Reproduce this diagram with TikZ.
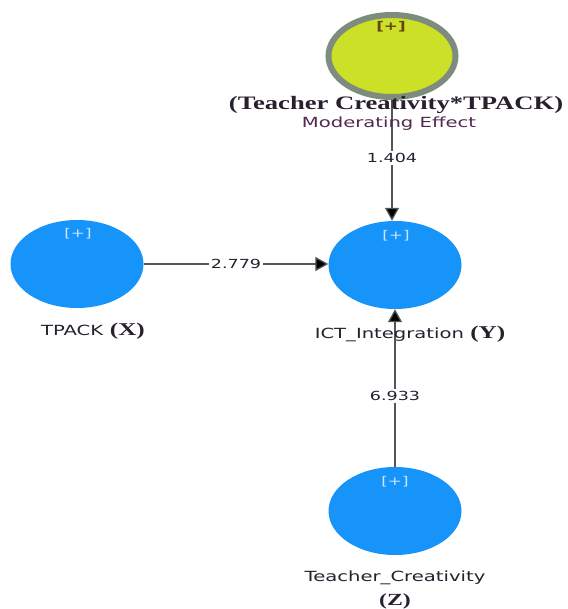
\documentclass[tikz,border=0pt]{standalone}
\usepackage{fontspec}
\setmainfont{Liberation Serif}
\setsansfont{DejaVu Sans}
\usetikzlibrary{shapes.geometric,arrows.meta}
\definecolor{lvblue}{RGB}{22,148,250}
\definecolor{lvyellow}{RGB}{204,224,40}
\definecolor{lvgray}{RGB}{125,140,125}
\definecolor{txtdark}{RGB}{40,32,46}
\definecolor{txtpurple}{RGB}{84,40,80}
\definecolor{plusblue}{RGB}{205,228,252}
\definecolor{plusbrown}{RGB}{100,70,20}
\definecolor{linegray}{RGB}{85,85,85}
\newcommand{\sx}[1]{\scalebox{1.4}[1]{#1}}
\tikzset{
  latent/.style={ellipse, fill=lvblue, draw=none, minimum width=133pt, minimum height=88pt, inner sep=0pt},
  modnode/.style={ellipse, fill=lvyellow, draw=lvgray, line width=6pt, minimum width=127pt, minimum height=82pt, inner sep=0pt},
  plus/.style={font=\sffamily\fontsize{12}{12}\selectfont, text=plusblue, inner sep=0pt},
  lbl/.style={font=\sffamily\fontsize{14}{14}\selectfont, text=txtdark, inner sep=0pt},
  sflbl/.style={font=\bfseries\fontsize{19}{19}\selectfont, text=txtdark, inner sep=0pt},
  num/.style={font=\sffamily\fontsize{12.5}{12.5}\selectfont, text=txtdark, fill=white, inner sep=2pt},
  arr/.style={draw=linegray, line width=1.3pt, -{Triangle[length=13pt,width=14pt,fill=black]}},
}
\begin{document}
\begin{tikzpicture}[x=1pt,y=-1pt]
\useasboundingbox (0,0) rectangle (567,609);
% nodes
\node[modnode] (mod) at (392,56) {};
\node[latent] (ict) at (395,265) {};
\node[latent] (tpack) at (77,264) {};
\node[latent] (tc) at (395,511) {};
% [+] markers
\node[plus, text=plusbrown, font=\sffamily\bfseries\fontsize{12}{12}\selectfont] (pm) at (391,27) {\sx{[+]}};
\node[plus] (pi) at (396,236) {\sx{[+]}};
\node[plus] (pt) at (78,234) {\sx{[+]}};
\node[plus] (pc) at (395,482) {\sx{[+]}};
% connectors
\draw[arr] (mod.south) -- (mod.south |- ict.north)
  node[num, pos=0.48] (n1) {\sx{1.404}};
\draw[arr] (tpack.east) -- (tpack.east -| ict.west)
  node[num, pos=0.5] (n2) {\sx{2.779}};
\draw[arr] (tc.north) -- (ict.south)
  node[num, pos=0.45] (n3) {\sx{6.933}};
% labels
\node[sflbl] (modt) at (396,105) {\sx{(Teacher Creativity*TPACK)}};
\node[lbl, text=txtpurple] (mode) at (389,124) {\sx{Moderating Effect}};
\node[lbl, anchor=base] (tpl) at (93,335) {\sx{TPACK \textrm{\bfseries\fontsize{18}{18}\selectfont (X)}}};
\node[lbl, anchor=base] (ictl) at (410,338) {\sx{ICT\_Integration \textrm{\bfseries\fontsize{18}{18}\selectfont (Y)}}};
\node[lbl] (tcl) at (395,578) {\sx{Teacher\_Creativity}};
\node[sflbl, font=\bfseries\fontsize{17}{17}\selectfont] (tcz) at (395,601) {\sx{(Z)}};
\end{tikzpicture}
\end{document}
